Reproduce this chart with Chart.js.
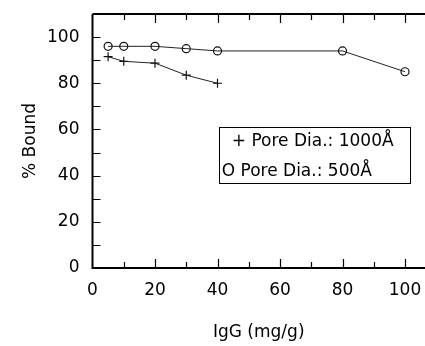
<!DOCTYPE html>
<html>
<head>
<meta charset="utf-8">
<script src="https://cdn.jsdelivr.net/npm/chart.js@4"></script>
<style>
html,body{margin:0;padding:0;background:#fff;}
#wrap{width:425px;height:346px;}
</style>
</head>
<body>
<div id="wrap"><canvas id="c" width="425" height="346"></canvas></div>
<script>
const seriesLabels = ["+ Pore Dia.: 1000Å", "O Pore Dia.: 500Å"];
const x1000 = [5, 10, 20, 30, 40];
const y1000 = [91.5, 89.5, 88.7, 83.5, 80];
const x500 = [5, 10, 20, 30, 40, 80, 100];
const y500 = [96, 96, 96, 95, 94, 94, 85];
const xTicks = [0, 20, 40, 60, 80, 100];
const yTicks = [0, 20, 40, 60, 80, 100];
const xTitle = "IgG (mg/g)";
const yTitle = "% Bound";

const FONT = "'DejaVu Sans', sans-serif";
const toPts = (xs, ys) => xs.map((x, i) => ({x: x, y: ys[i]}));

const axesPlugin = {
  id: 'axesPlugin',
  afterDatasetsDraw(chart) {
    const ctx = chart.ctx;
    const xs = chart.scales.x, ys = chart.scales.y;
    const ca = chart.chartArea;
    ctx.save();
    ctx.strokeStyle = '#000';
    ctx.lineWidth = 2;
    ctx.beginPath();
    ctx.moveTo(ca.left, ca.top);
    ctx.lineTo(ca.left, ca.bottom);
    ctx.lineTo(ca.right, ca.bottom);
    ctx.moveTo(ca.left, ca.top);
    ctx.lineTo(ca.right, ca.top);
    ctx.stroke();
    ctx.lineWidth = 1.2;
    ctx.beginPath();
    for (let v = 10; v <= 100; v += 10) {
      const px = Math.round(xs.getPixelForValue(v)) + 0.5;
      const len = (v % 20 === 0) ? 9 : 6;
      ctx.moveTo(px, ca.bottom); ctx.lineTo(px, ca.bottom - len);
      ctx.moveTo(px, ca.top); ctx.lineTo(px, ca.top + len);
    }
    for (let v = 10; v <= 100; v += 10) {
      const py = Math.round(ys.getPixelForValue(v)) + 0.5;
      ctx.moveTo(ca.left, py); ctx.lineTo(ca.left + 8, py);
    }
    ctx.stroke();

    // legend box
    const lx0 = xs.getPixelForValue(40.4), lx1 = xs.getPixelForValue(101.6);
    const ly0 = ys.getPixelForValue(61), ly1 = ys.getPixelForValue(36.8);
    ctx.fillStyle = '#fff';
    ctx.fillRect(lx0, ly0, lx1 - lx0, ly1 - ly0);
    ctx.lineWidth = 1;
    ctx.strokeStyle = '#000';
    ctx.strokeRect(Math.round(lx0) + 0.5, Math.round(ly0) + 0.5, Math.round(lx1 - lx0), Math.round(ly1 - ly0));
    ctx.fillStyle = '#000';
    ctx.font = '17px ' + FONT;
    ctx.textBaseline = 'middle';
    ctx.textAlign = 'left';
    ctx.fillText(seriesLabels[0], lx0 + 13, ly0 + 14);
    ctx.fillText(seriesLabels[1], lx0 + 3, ly0 + 44);
    ctx.restore();
  }
};

new Chart(document.getElementById('c'), {
  type: 'scatter',
  data: {
    datasets: [
      {
        label: seriesLabels[0],
        data: toPts(x1000, y1000),
        showLine: true,
        borderColor: '#222',
        borderWidth: 1,
        pointStyle: 'cross',
        pointRadius: 4.5,
        pointBorderWidth: 1.2,
        pointBorderColor: '#111',
        pointBackgroundColor: 'transparent',
        tension: 0
      },
      {
        label: seriesLabels[1],
        data: toPts(x500, y500),
        showLine: true,
        borderColor: '#222',
        borderWidth: 1,
        pointStyle: 'circle',
        pointRadius: 4,
        pointBorderWidth: 1.2,
        pointBorderColor: '#111',
        pointBackgroundColor: 'rgba(255,255,255,0)',
        tension: 0
      }
    ]
  },
  options: {
    responsive: false,
    animation: false,
    devicePixelRatio: 1,
    layout: {autoPadding: false, padding: {left: 0, right: 0, top: 14, bottom: 0}},
    plugins: {legend: {display: false}, tooltip: {enabled: false}},
    scales: {
      x: {
        type: 'linear',
        min: 0, max: 106.4,
        grid: {display: false, drawTicks: false},
        border: {display: false},
        afterBuildTicks: (s) => { s.ticks = xTicks.map(v => ({value: v})); },
        afterFit: (s) => { s.height = 78; s.paddingLeft = 0; s.paddingRight = 0; },
        ticks: {color: '#000', font: {family: FONT, size: 17}, padding: 12, maxRotation: 0, autoSkip: false},
        title: {display: true, text: xTitle, color: '#000', font: {family: FONT, size: 17}, padding: {top: 18, bottom: 3}}
      },
      y: {
        type: 'linear',
        min: 0, max: 110,
        grid: {display: false, drawTicks: false},
        border: {display: false},
        afterBuildTicks: (s) => { s.ticks = yTicks.map(v => ({value: v})); },
        afterFit: (s) => { s.width = 92.5; s.paddingTop = 0; s.paddingBottom = 0; },
        ticks: {color: '#000', font: {family: FONT, size: 17}, padding: 13},
        title: {display: true, text: yTitle, color: '#000', font: {family: FONT, size: 17}, padding: {top: 20, bottom: 0}}
      }
    }
  },
  plugins: [axesPlugin]
});
</script>
</body>
</html>
